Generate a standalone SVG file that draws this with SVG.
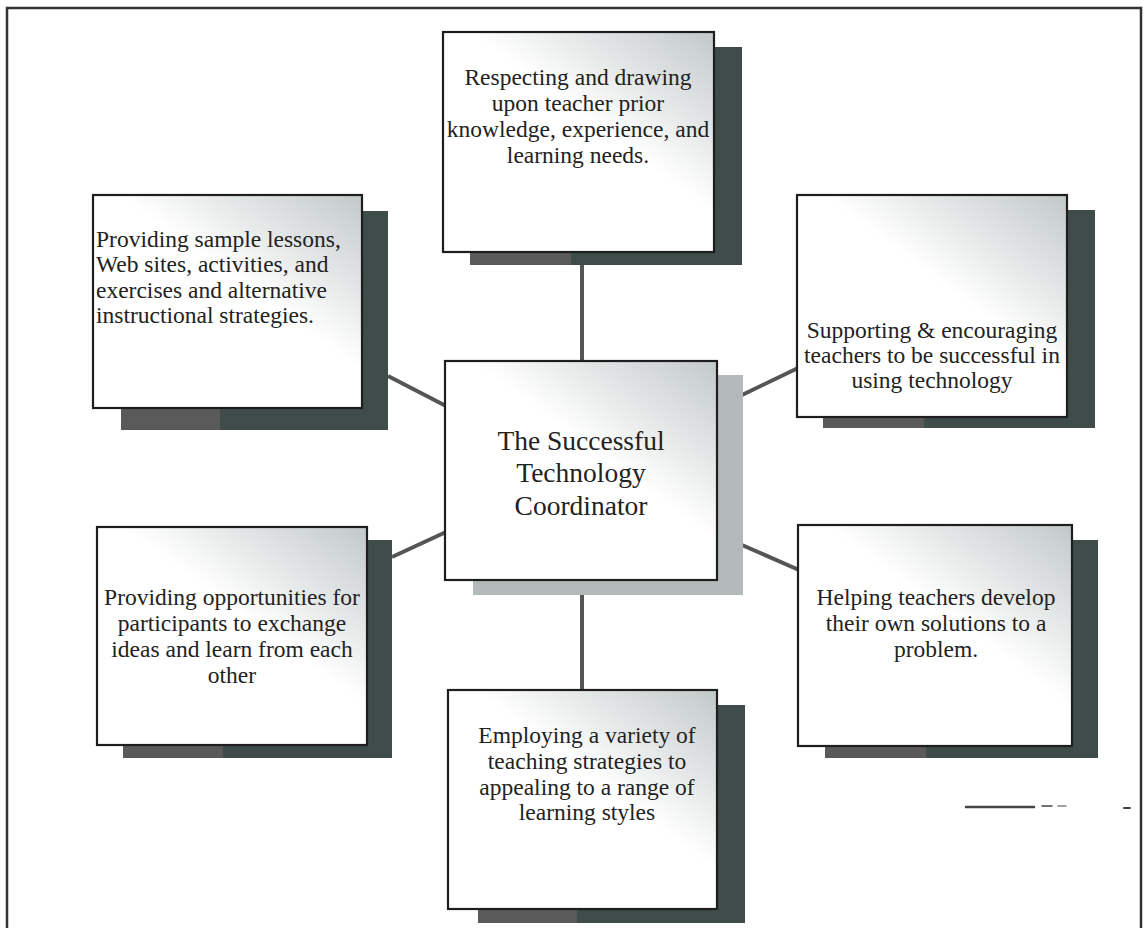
<svg xmlns="http://www.w3.org/2000/svg" width="1148" height="928" viewBox="0 0 1148 928">
<defs>
<linearGradient id="speck" x1="1" y1="0" x2="0.45" y2="0.6">
<stop offset="0" stop-color="#c2c8c8"/>
<stop offset="0.4" stop-color="#e2e5e5"/>
<stop offset="0.75" stop-color="#ffffff"/>
<stop offset="1" stop-color="#ffffff"/>
</linearGradient>
<linearGradient id="shadow" x1="0" y1="0" x2="1" y2="0">
<stop offset="0" stop-color="#5a5a5a"/>
<stop offset="0.37" stop-color="#5a5a5a"/>
<stop offset="0.37" stop-color="#3f4c4a"/>
<stop offset="1" stop-color="#3f4c4a"/>
</linearGradient>
</defs>
<style>
.box{fill:url(#speck);stroke:#1e1e1e;stroke-width:2.2}
.shd{fill:url(#shadow)}
.shdc{fill:#b3b8b8}
.t{font-family:"Liberation Serif","Times New Roman",serif;font-size:23.5px;fill:#222;text-anchor:middle}
.tl{text-anchor:start}
.tc{font-size:27.5px}
.con{stroke:#555;stroke-width:4;fill:none}
</style>
<rect width="1148" height="928" fill="#ffffff"/>
<path d="M7,928 V8 H1141 V928" fill="none" stroke="#333" stroke-width="2.5"/>

<g id="connectors">
<line class="con" x1="582" y1="262" x2="582" y2="362"/>
<line class="con" x1="582" y1="594" x2="582" y2="691"/>
<line class="con" x1="388" y1="376" x2="446" y2="406"/>
<line class="con" x1="742" y1="395" x2="798" y2="368"/>
<line class="con" x1="392" y1="557" x2="446" y2="532"/>
<line class="con" x1="742" y1="545" x2="799" y2="570"/>
</g>

<g id="node-top">
<rect class="shd" x="470" y="47" width="272" height="218"/>
<rect class="box" x="443" y="32" width="271" height="220"/>
<text class="t" x="578" y="85">Respecting and drawing</text>
<text class="t" x="578" y="111">upon teacher prior</text>
<text class="t" x="578" y="137">knowledge, experience, and</text>
<text class="t" x="578" y="163">learning needs.</text>
</g>

<g id="node-upper-left">
<rect class="shd" x="121" y="211" width="267" height="219"/>
<rect class="box" x="93" y="195" width="269" height="213"/>
<text class="t tl" x="96" y="247">Providing sample lessons,</text>
<text class="t tl" x="96" y="272">Web sites, activities, and</text>
<text class="t tl" x="96" y="298">exercises and alternative</text>
<text class="t tl" x="96" y="323">instructional strategies.</text>
</g>

<g id="node-upper-right">
<rect class="shd" x="823" y="210" width="272" height="218"/>
<rect class="box" x="797" y="195" width="270" height="222"/>
<text class="t" x="932" y="338">Supporting &amp; encouraging</text>
<text class="t" x="932" y="363">teachers to be successful in</text>
<text class="t" x="932" y="388">using technology</text>
</g>

<g id="node-center">
<rect class="shdc" x="473" y="375" width="270" height="220"/>
<rect class="box" x="445" y="361" width="272" height="219"/>
<text class="t tc" x="581" y="450">The Successful</text>
<text class="t tc" x="581" y="482">Technology</text>
<text class="t tc" x="581" y="515">Coordinator</text>
</g>

<g id="node-lower-left">
<rect class="shd" x="123" y="540" width="269" height="218"/>
<rect class="box" x="97" y="527" width="270" height="218"/>
<text class="t" x="232" y="605">Providing opportunities for</text>
<text class="t" x="232" y="631">participants to exchange</text>
<text class="t" x="232" y="657">ideas and learn from each</text>
<text class="t" x="232" y="683">other</text>
</g>

<g id="node-lower-right">
<rect class="shd" x="825" y="540" width="273" height="218"/>
<rect class="box" x="798" y="525" width="274" height="221"/>
<text class="t" x="936" y="605">Helping teachers develop</text>
<text class="t" x="936" y="631">their own solutions to a</text>
<text class="t" x="936" y="657">problem.</text>
</g>

<g id="node-bottom">
<rect class="shd" x="478" y="705" width="267" height="218"/>
<rect class="box" x="448" y="690" width="269" height="219"/>
<text class="t" x="587" y="743">Employing a variety of</text>
<text class="t" x="587" y="769">teaching strategies to</text>
<text class="t" x="587" y="795">appealing to a range of</text>
<text class="t" x="587" y="820">learning styles</text>
</g>

<g id="scan-marks" stroke="#444" stroke-linecap="round">
<line x1="966" y1="807" x2="1034" y2="807" stroke-width="2.5"/>
<line x1="1042" y1="806" x2="1052" y2="806" stroke-width="1.5"/>
<line x1="1058" y1="806" x2="1066" y2="806" stroke-width="1.2"/>
<line x1="1124" y1="808" x2="1130" y2="808" stroke-width="2"/>
</g>
</svg>
